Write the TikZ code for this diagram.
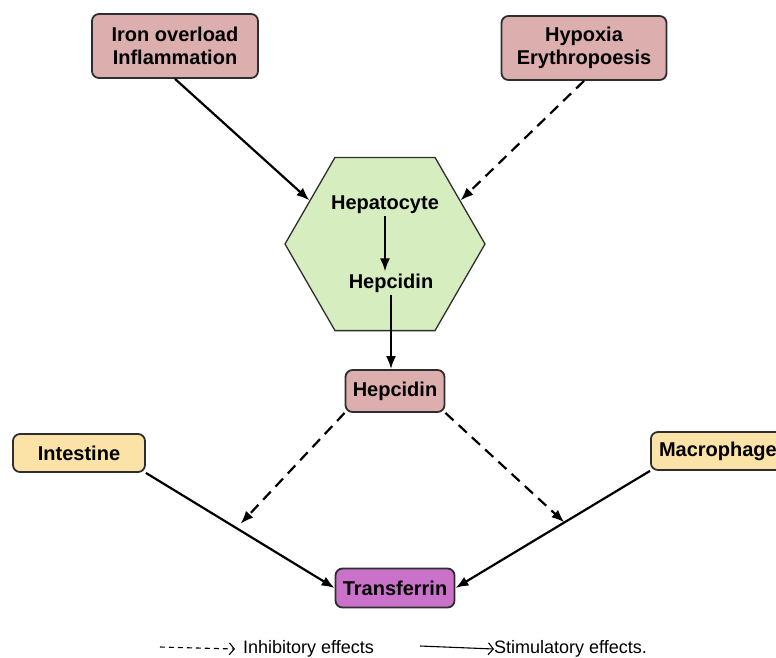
\documentclass[tikz,border=0pt]{standalone}
\usepackage{fontspec}
\setsansfont{Liberation Sans}
\usetikzlibrary{
arrows.meta,
positioning,
shapes.geometric
}
\definecolor{roseFill}{HTML}{DDAEAE}
\definecolor{liverFill}{HTML}{D6EDC0}
\definecolor{gutFill}{HTML}{FBE2A6}
\definecolor{plasmaFill}{HTML}{CA72CA}
\definecolor{edge}{HTML}{2E2E2E}

\begin{document}
\begin{tikzpicture}[
x=1pt, y=-1pt,
box/.style={
rectangle,
rounded corners=7pt,
draw=edge,
line width=1.8pt,
align=center,
inner sep=3pt,
font=\sffamily\bfseries\fontsize{20}{23}\selectfont
},
label/.style={
align=center,
inner sep=2pt,
font=\sffamily\bfseries\fontsize{20}{23}\selectfont
},
legendtext/.style={
inner sep=0pt,
anchor=west,
font=\sffamily\fontsize{18}{21}\selectfont
},
stim/.style={-{Latex[length=13pt,width=10pt]}, line width=2.2pt},
inhib/.style={stim, dash pattern=on 11pt off 7pt},
legarrow/.style={-{Straight Barb[length=5pt,width=12pt]}, line width=1.1pt}
]
\useasboundingbox (0,0) rectangle (776,657);

% signals
\node[box, fill=roseFill, minimum width=166pt, minimum height=64pt] (iron) at (175,46)
{Iron overload\\Inflammation};
\node[box, fill=roseFill, minimum width=165pt, minimum height=64pt] (hypoxia) at (584,48)
{Hypoxia\\Erythropoesis};

% liver cell
\node[regular polygon, regular polygon sides=6, minimum size=200pt, inner sep=0pt,
draw=edge, line width=1.3pt, fill=liverFill] (liver) at (385,244) {};
\node[label] (hepatocyte) at (385,205) {Hepatocyte};
\node[label] (hepcidinIn) at (391,283) {Hepcidin};

\node[box, fill=roseFill, minimum width=99pt, minimum height=42pt] (hepcidin) at (395,391)
{Hepcidin};
\node[box, fill=gutFill, minimum width=132pt, minimum height=38pt] (intestine) at (79,453)
{Intestine};
\node[box, fill=gutFill, minimum width=134pt, minimum height=38pt, anchor=west] (macrophage) at (650,451)
{Macrophage};
\node[box, fill=plasmaFill, minimum width=119pt, minimum height=39pt] (transferrin) at (395,588)
{Transferrin};

\draw[stim] (iron.south) -- (liver.150);
\draw[inhib] (hypoxia.south) -- (liver.30);
\draw[stim] (hepatocyte.south) -- (hepatocyte.south |- hepcidinIn.north);
\draw[stim] (hepcidinIn.south) -- (hepcidinIn.south |- hepcidin.north);

\draw[stim] (intestine.south east) -- coordinate[pos=0.48] (inhL) (transferrin.west);
\draw[stim] (macrophage.south west) -- coordinate[pos=0.44] (inhR) (transferrin.east);
\draw[inhib, shorten >=6pt] (hepcidin.south west) -- (inhL);
\draw[inhib] (hepcidin.south east) -- (inhR);

% legend
\coordinate (inhA) at (160,647);
\node[legendtext] (inhtxt) at (243,649) {Inhibitory effects};
\draw[legarrow, dash pattern=on 5pt off 4pt] (inhA) -- ([xshift=-8pt]inhtxt.west);
\coordinate (stimA) at (420,646);
\node[legendtext] (stimtxt) at (494,649) {Stimulatory effects.};
\draw[legarrow] (stimA) -- (stimtxt.west);

\end{tikzpicture}
\end{document}
